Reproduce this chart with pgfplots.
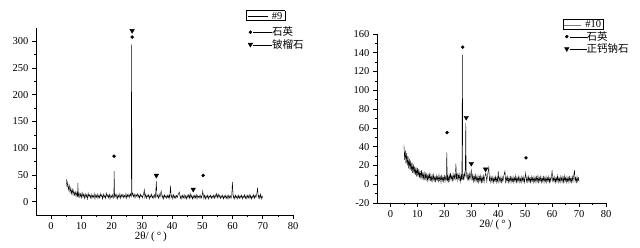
\documentclass[border=0pt]{standalone}
\usepackage{fontspec}
\setmainfont{Liberation Serif}
\newfontfamily\cjk{Noto Sans CJK SC}
\usepackage{pgfplots}
\pgfplotsset{compat=1.18}
\pgfplotsset{
  xrd/.style={
    scale only axis,
    axis x line*=bottom, axis y line*=left,
    xmin=-5, xmax=80, xtick={0,10,...,80},
    minor x tick num=1, minor y tick num=1,
    tick align=outside,
    major tick length=4pt, minor tick length=2pt,
    every tick/.style={black, line width=0.6pt},
    axis line style={line width=0.7pt},
    tick label style={font=\fontsize{10.5}{12}\selectfont},
    /pgf/number format/assume math mode=true,
    xlabel={2θ/\hspace{2.5pt}(\hspace{2pt}°\hspace{2pt})},
    label style={font=\fontsize{11}{12}\selectfont},
    legend cell align=left,
    legend style={draw=none, fill=none, anchor=north west,
      font=\fontsize{10.5}{11}\selectfont, row sep=0pt,
      nodes={inner xsep=0.5pt, inner ysep=1pt}},
  },
  quartz/.style={only marks, mark=*, mark size=1.5pt, black,
    legend image code/.code={\draw plot coordinates {(0pt,0pt)};}},
  heart/.style={only marks, mark=triangle*, mark size=2.6pt, mark options={rotate=180}, black,
    legend image code/.code={\draw plot coordinates {(0pt,0pt)};}},
}
\begin{document}
\begin{tikzpicture}
\path[use as bounding box, fill=white] (0pt,0pt) rectangle (640pt,248pt);
% ---------------- left chart (#9) ----------------
\begin{axis}[xrd, at={(36pt,33pt)}, anchor=south west, width=257pt, height=187pt,
  ymin=-25, ymax=325, ytick={0,50,...,300},
  xlabel style={at={(axis description cs:0.447,0)}, anchor=center, yshift=-21.5pt},
  legend style={at={(0.813,1.112)}}]
\addplot[black, line width=0.4pt, legend image code/.code={}] table {
5.00 42
5.25 28
5.50 36
5.75 22
6.00 30
6.25 17
6.50 26
6.75 15
7.00 23
7.25 13
7.50 21
7.75 12
8.00 18
8.25 10
8.50 17
8.75 9
8.85 35
9.00 10
9.25 16
9.50 8
9.75 15
10.00 7
10.25 17
10.50 9
10.75 14
11.00 6
11.25 15
11.50 8
11.75 13
12.00 5
12.25 16
12.50 9
12.75 13
13.00 7
13.25 14
13.50 6
13.75 12
14.00 8
14.25 15
14.50 5
14.75 13
15.00 8
15.25 14
15.50 6
15.75 12
16.00 7
16.25 15
16.50 9
16.75 13
17.00 5
17.25 14
17.50 8
17.75 12
18.00 6
18.25 16
18.50 9
18.75 13
19.00 7
19.25 14
19.50 5
19.75 12
20.00 8
20.25 13
20.50 6
20.75 12
20.85 57
21.00 9
21.25 13
21.50 7
21.75 14
22.00 5
22.25 12
22.50 8
22.75 15
23.00 6
23.25 13
23.50 9
23.75 14
24.00 7
24.25 12
24.50 8
24.75 15
25.00 6
25.25 13
25.50 9
25.75 14
26.00 8
26.25 15
26.50 10
26.60 295
26.75 12
27.00 16
27.25 9
27.50 14
27.75 7
28.00 13
28.25 10
28.50 15
28.75 8
29.00 13
29.25 6
29.50 14
29.75 9
30.00 12
30.25 7
30.50 13
30.85 22
31.00 8
31.25 14
31.50 6
31.75 12
32.00 9
32.25 13
32.50 5
32.75 12
33.00 8
33.25 14
33.50 7
33.75 11
34.00 6
34.25 13
34.50 8
34.80 38
35.00 9
35.25 12
35.50 6
35.75 14
36.00 8
36.40 20
36.75 7
37.00 12
37.25 5
37.50 13
37.75 8
38.00 11
38.25 6
38.50 12
38.75 7
39.00 13
39.25 6
39.45 30
39.75 8
40.00 12
40.25 5
40.50 13
40.75 7
41.00 11
41.25 6
41.50 12
41.75 8
42.00 13
42.40 18
42.75 6
43.00 11
43.25 5
43.50 12
43.75 7
44.00 13
44.25 6
44.50 11
44.75 5
45.00 12
45.25 7
45.50 13
45.75 6
46.00 15
46.25 7
46.50 12
46.75 5
47.00 11
47.25 6
47.50 12
47.75 7
48.00 13
48.25 5
48.50 12
48.75 8
49.00 11
49.25 6
49.50 12
49.75 7
50.00 13
50.15 20
50.50 6
50.75 12
51.00 5
51.25 11
51.50 7
51.75 12
52.00 5
52.25 11
52.50 8
52.75 12
53.00 6
53.25 11
53.50 7
53.75 12
54.00 6
54.25 13
54.50 8
54.75 15
55.00 7
55.25 14
55.50 8
55.75 12
56.00 6
56.25 11
56.50 7
56.75 12
57.00 5
57.25 11
57.50 7
57.75 12
58.00 6
58.25 11
58.50 5
58.75 12
59.00 7
59.25 11
59.50 6
59.75 12
59.95 37
60.25 7
60.50 11
60.75 5
61.00 12
61.25 7
61.50 11
61.75 5
62.00 12
62.25 6
62.50 11
62.75 7
63.00 12
63.25 5
63.50 11
63.75 7
64.00 13
64.25 6
64.50 11
64.75 5
65.00 12
65.25 7
65.50 13
65.75 6
66.00 12
66.25 5
66.50 11
66.75 7
67.00 13
67.25 6
67.50 12
67.75 8
68.00 14
68.30 26
68.50 7
68.75 12
69.00 6
69.25 14
69.50 5
69.75 11
70.00 7
};
\addlegendentry{\hspace*{-7pt}\raisebox{4.5pt}{\setlength\fboxsep{1.2pt}\setlength\fboxrule{0.6pt}\fbox{\rule[0.6ex]{20pt}{0.5pt}\hspace{4pt}\#9\hspace{1pt}}}}
\addplot[quartz] coordinates {(20.8,85) (26.8,308) (50.3,49)};
\addlegendentry{\rule[0.6ex]{19pt}{0.5pt}{\cjk 石英}}
\addplot[heart] coordinates {(26.8,320) (34.8,49) (47.0,23)};
\addlegendentry{\rule[0.6ex]{19pt}{0.5pt}{\cjk 铍榴石}}
\end{axis}
% ---------------- right chart (#10) ----------------
\begin{axis}[xrd, at={(377pt,45pt)}, anchor=south west, width=229pt, height=169pt,
  ymin=-20, ymax=160, ytick={-20,0,...,160},
  xlabel style={at={(axis description cs:0.517,0)}, anchor=center, yshift=-21.5pt},
  legend style={at={(0.805,1.107)}}]
\addplot[black, line width=0.4pt, legend image code/.code={}] table {
5.00 42
5.25 26
5.50 36
5.75 22
6.00 33
6.25 20
6.50 30
6.75 17
7.00 27
7.25 15
7.50 25
7.75 14
8.00 23
8.25 12
8.50 21
8.75 11
9.00 19
9.25 10
9.50 18
9.75 8
10.00 17
10.25 8
10.50 16
10.75 7
11.00 14
11.25 6
11.50 15
11.75 5
12.00 13
12.25 6
12.50 12
12.75 4
13.00 11
13.25 5
13.50 12
13.75 4
14.00 10
14.25 5
14.50 11
14.75 3
15.00 10
15.25 4
15.50 9
15.75 3
16.00 10
16.25 4
16.50 8
16.75 3
17.00 9
17.25 4
17.50 8
17.75 3
18.00 10
18.25 4
18.50 8
18.75 2
19.00 9
19.25 4
19.50 8
19.75 3
20.00 9
20.25 3
20.50 8
20.75 4
20.90 34
21.10 3
21.25 8
21.50 3
21.75 10
22.00 4
22.25 12
22.50 5
22.75 9
23.00 4
23.25 11
23.50 5
23.75 10
24.00 4
24.30 22
24.50 5
24.75 12
25.00 4
25.25 10
25.50 5
25.75 11
26.00 3
26.25 9
26.50 4
26.70 138
26.85 5
27.00 11
27.25 4
27.50 12
27.75 8
27.95 65
28.10 14
28.25 9
28.50 5
28.75 12
29.00 4
29.25 11
29.50 5
29.75 10
30.00 15
30.25 4
30.50 10
30.75 3
31.00 9
31.25 4
31.50 10
31.75 3
32.00 8
32.25 3
32.50 9
32.75 2
33.00 8
33.25 3
33.50 9
33.75 2
34.00 8
34.25 3
34.50 9
34.75 2
35.00 8
35.40 12
35.75 3
36.00 9
36.50 18
36.75 3
37.00 8
37.25 2
37.50 7
37.75 3
38.00 8
38.25 2
38.50 7
38.75 3
39.00 8
39.25 2
39.50 7
39.75 3
40.00 14
40.25 2
40.50 7
40.75 3
41.00 8
41.25 2
41.50 7
41.75 3
42.00 8
42.50 14
42.75 2
43.00 7
43.25 3
43.50 8
43.75 2
44.00 7
44.25 3
44.50 8
44.75 2
45.00 7
45.25 3
45.50 8
45.75 2
46.00 7
46.25 3
46.50 9
46.75 2
47.00 7
47.25 3
47.50 8
47.75 2
48.00 7
48.25 3
48.50 8
48.75 2
49.00 7
49.25 3
49.50 8
49.75 2
50.20 12
50.50 3
50.75 7
51.00 2
51.25 8
51.50 3
51.75 7
52.00 2
52.25 8
52.50 3
52.75 7
53.00 2
53.25 8
53.50 3
53.75 7
54.00 2
54.25 8
54.50 3
54.75 9
55.00 2
55.25 7
55.50 3
55.75 8
56.00 2
56.25 7
56.50 3
56.75 8
57.00 2
57.25 7
57.50 3
57.75 8
58.00 2
58.25 7
58.50 3
58.75 8
59.00 2
59.25 7
59.50 3
59.75 8
60.00 15
60.25 2
60.50 7
60.75 3
61.00 8
61.25 2
61.50 7
61.75 3
62.00 9
62.25 2
62.50 7
62.75 3
63.00 8
63.25 2
63.50 7
63.75 3
64.00 8
64.25 2
64.50 9
64.75 3
65.00 7
65.25 2
65.50 8
65.75 3
66.00 7
66.25 2
66.50 8
66.75 3
67.00 7
67.25 2
67.50 8
67.75 3
68.00 9
68.30 15
68.50 3
68.75 7
69.00 2
69.25 8
69.50 3
69.75 7
70.00 3
};
\addlegendentry{\hspace*{-7pt}{\setlength\fboxsep{1.2pt}\setlength\fboxrule{0.6pt}\fbox{{\color{gray}\rule[0.6ex]{17pt}{0.4pt}}\hspace{4pt}\#10\hspace{1pt}}}}
\addplot[quartz] coordinates {(21.0,55) (26.8,146) (50.3,28)};
\addlegendentry{\rule[0.6ex]{17pt}{0.5pt}{\cjk 石英}}
\addplot[heart] coordinates {(28.1,71) (30.0,22) (35.3,16)};
\addlegendentry{\rule[0.6ex]{17pt}{0.5pt}{\cjk 正钙钠石}}
\end{axis}
\end{tikzpicture}
\end{document}
